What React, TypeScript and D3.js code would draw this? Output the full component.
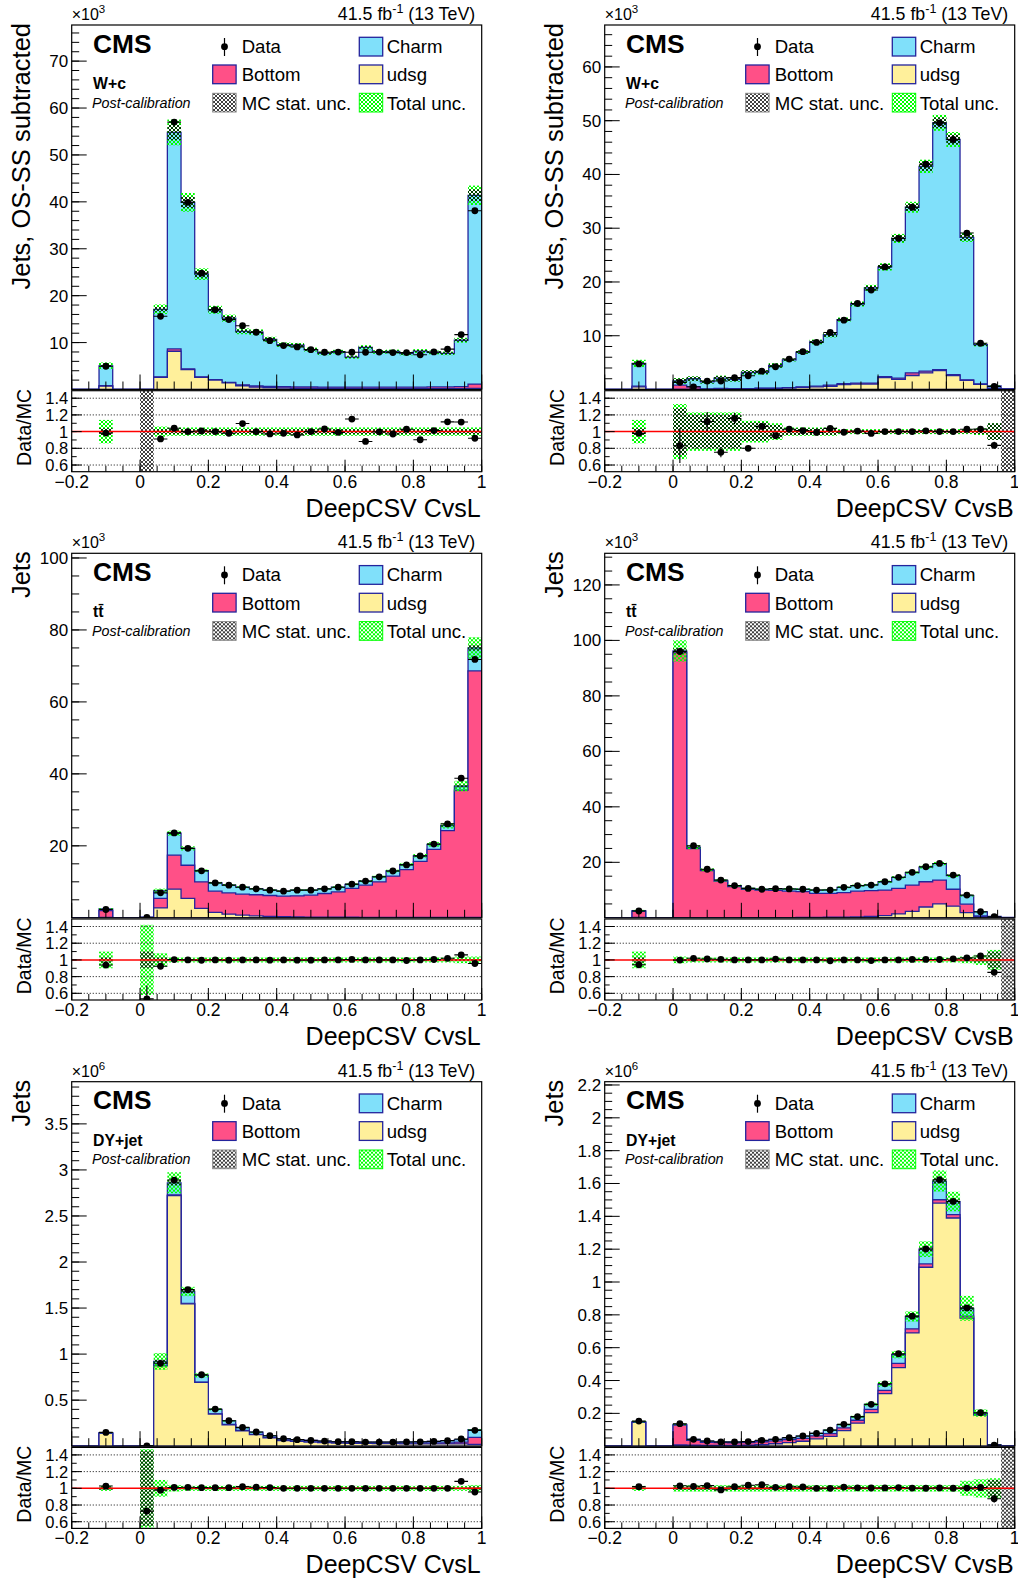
import React from "react";
import * as d3 from "d3";

const FONT = "'Liberation Sans', Arial, Helvetica, sans-serif";

// bin centres: the lone bin at -0.1, then 25 bins of width 0.04 covering [0, 1]
const binCenters = [-0.1, 0.02, 0.06, 0.1, 0.14, 0.18, 0.22, 0.26, 0.3, 0.34, 0.38, 0.42, 0.46, 0.5, 0.54, 0.58, 0.62, 0.66, 0.7, 0.74, 0.78, 0.82, 0.86, 0.9, 0.94, 0.98];
const BIN_W = 0.04;

// ---- W+c, CvsL (x10^3) ----
const wcL_mc = [5.05, 0, 17.1, 54.8, 39.9, 24.6, 17.0, 15.2, 12.4, 12.2, 10.7, 9.55, 9.45, 8.5, 7.7, 8.05, 6.9, 9.0, 8.0, 8.1, 7.65, 8.2, 7.9, 7.7, 10.5, 41.4];
const wcL_data = [4.96, null, 15.6, 57.0, 39.9, 24.8, 17.0, 14.9, 13.6, 12.2, 10.4, 9.36, 9.08, 8.5, 7.94, 7.98, 7.94, 7.94, 7.98, 7.87, 7.87, 7.4, 8.0, 8.6, 11.7, 38.1];
const wcL_udsg = [0.7, 0, 2.6, 8.15, 4.25, 2.6, 2.0, 1.4, 0.8, 0.5, 0.4, 0.35, 0.3, 0.3, 0.25, 0.25, 0.2, 0.2, 0.2, 0.2, 0.2, 0.2, 0.2, 0.2, 0.2, 0.25];
const wcL_bottom = [0.1, 0, 0.1, 0.5, 0.15, 0.1, 0.1, 0.1, 0.2, 0.25, 0.25, 0.25, 0.25, 0.25, 0.25, 0.25, 0.3, 0.3, 0.3, 0.3, 0.3, 0.3, 0.35, 0.35, 0.4, 0.9];
const wcL_tot = [0.14, 0, 0.06, 0.05, 0.05, 0.05, 0.05, 0.05, 0.05, 0.05, 0.05, 0.05, 0.05, 0.05, 0.05, 0.05, 0.05, 0.05, 0.05, 0.05, 0.05, 0.05, 0.05, 0.05, 0.05, 0.05];
const wcL_stat = [0.04, 1, 0.03, 0.03, 0.03, 0.03, 0.03, 0.03, 0.03, 0.03, 0.03, 0.03, 0.03, 0.03, 0.03, 0.03, 0.03, 0.03, 0.03, 0.03, 0.03, 0.03, 0.03, 0.03, 0.03, 0.03];
const wcL_err = [0.02, 0, 0.01, 0.01, 0.01, 0.01, 0.01, 0.01, 0.01, 0.01, 0.01, 0.01, 0.01, 0.01, 0.01, 0.01, 0.01, 0.01, 0.01, 0.01, 0.01, 0.01, 0.01, 0.01, 0.01, 0.01];

// ---- W+c, CvsB (x10^3) ----
const wcB_mc = [4.85, 1.6, 2.0, 1.4, 2.1, 1.9, 3.2, 3.2, 4.45, 5.5, 6.95, 8.85, 10.2, 13.0, 15.9, 18.9, 22.8, 28.1, 33.9, 41.5, 49.6, 46.5, 28.3, 8.35, 0.67, 0.1];
const wcB_data = [4.75, 1.33, 0.5, 1.57, 1.58, 2.2, 2.56, 3.4, 4.23, 5.66, 7.03, 8.76, 10.6, 12.9, 16.0, 18.5, 22.8, 28.1, 33.9, 41.9, 49.6, 46.5, 29.1, 8.6, 0.56, null];
const wcB_udsg = [0.5, 0, 0, 0, 0.1, 0.1, 0.1, 0.2, 0.2, 0.3, 0.4, 0.5, 0.6, 0.9, 1.0, 1.0, 2.2, 1.9, 2.6, 3.1, 3.5, 2.6, 1.7, 0.97, 0.2, 0.05];
const wcB_bottom = [0.1, 0.8, 0.5, 0.1, 0.1, 0.05, 0.05, 0.05, 0.05, 0.05, 0.1, 0.1, 0.2, 0.2, 0.2, 0.2, 0.2, 0.2, 0.5, 0.3, 0.2, 0.15, 0.1, 0.05, 0.02, 0.01];
const wcB_tot = [0.14, 0.33, 0.23, 0.23, 0.23, 0.23, 0.13, 0.13, 0.1, 0.05, 0.05, 0.05, 0.05, 0.03, 0.03, 0.03, 0.03, 0.03, 0.03, 0.03, 0.03, 0.03, 0.03, 0.04, 0.1, 0];
const wcB_stat = [0.04, 0.28, 0.2, 0.2, 0.2, 0.2, 0.11, 0.11, 0.08, 0.04, 0.04, 0.04, 0.04, 0.02, 0.02, 0.02, 0.02, 0.02, 0.02, 0.02, 0.02, 0.02, 0.02, 0.03, 0.1, 1];
const wcB_err = [0.02, 0.25, 0.3, 0.1, 0.08, 0.06, 0.03, 0.03, 0.02, 0.02, 0.015, 0.01, 0.01, 0.01, 0.01, 0.01, 0.01, 0.01, 0.01, 0.01, 0.01, 0.01, 0.01, 0.01, 0.05, 0];

// ---- ttbar, CvsL (x10^3) ----
const ttL_mc = [2.45, 0.15, 7.5, 23.5, 19.3, 13.1, 9.7, 9.1, 8.5, 8.05, 7.7, 7.4, 7.7, 7.7, 8.05, 8.5, 9.3, 10.2, 11.4, 13.0, 14.8, 17.2, 20.4, 25.6, 36.6, 75.0];
const ttL_data = [2.3, 0.08, 6.93, 23.6, 19.3, 13.05, 9.7, 9.07, 8.5, 8.05, 7.68, 7.4, 7.68, 7.68, 8.05, 8.5, 9.35, 10.2, 11.4, 13.0, 14.7, 17.2, 20.5, 26.1, 38.8, 71.8];
const ttL_udsg = [0.1, 0.02, 2.75, 7.95, 5.4, 2.6, 1.5, 1.0, 0.75, 0.55, 0.4, 0.3, 0.25, 0.2, 0.2, 0.15, 0.15, 0.1, 0.1, 0.1, 0.1, 0.1, 0.1, 0.1, 0.1, 0.1];
const ttL_bottom = [1.9, 0.08, 2.65, 9.45, 9.2, 7.4, 5.9, 5.9, 5.81, 5.85, 5.8, 5.7, 5.85, 6.1, 6.56, 7.05, 8.0, 8.97, 9.9, 11.5, 13.3, 15.6, 18.9, 24.1, 35.4, 68.5];
const ttL_tot = [0.1, 0.42, 0.08, 0.03, 0.03, 0.03, 0.03, 0.03, 0.03, 0.03, 0.03, 0.03, 0.03, 0.03, 0.03, 0.03, 0.03, 0.03, 0.03, 0.03, 0.03, 0.03, 0.03, 0.03, 0.04, 0.04];
const ttL_stat = [0.03, 0.1, 0.03, 0.01, 0.01, 0.01, 0.01, 0.01, 0.01, 0.01, 0.01, 0.01, 0.01, 0.01, 0.01, 0.01, 0.01, 0.01, 0.01, 0.01, 0.01, 0.01, 0.01, 0.01, 0.01, 0.01];
const ttL_err = [0.02, 0.3, 0.01, 0.01, 0.01, 0.01, 0.01, 0.01, 0.01, 0.01, 0.01, 0.01, 0.01, 0.01, 0.01, 0.01, 0.01, 0.01, 0.01, 0.01, 0.01, 0.01, 0.01, 0.01, 0.01, 0.01];

// ---- ttbar, CvsB (x10^3) ----
const ttB_mc = [2.6, 96.2, 25.5, 17.3, 13.5, 11.6, 10.6, 10.3, 10.4, 10.4, 10.3, 10.0, 10.1, 11.0, 11.6, 11.9, 13.0, 14.6, 16.3, 18.3, 19.5, 15.2, 8.0, 2.1, 0.47, 0.1];
const ttB_data = [2.45, 96.0, 26.0, 17.5, 13.6, 11.6, 10.6, 10.3, 10.5, 10.4, 10.3, 10.0, 10.0, 11.0, 11.6, 11.8, 13.0, 14.6, 16.4, 18.4, 19.6, 15.4, 8.2, 2.2, 0.4, null];
const ttB_udsg = [0.1, 0.05, 0.02, 0.02, 0.02, 0.03, 0.04, 0.05, 0.06, 0.08, 0.1, 0.15, 0.2, 0.25, 0.35, 0.5, 0.8, 1.4, 2.3, 3.9, 5.0, 4.2, 1.9, 0.4, 0.1, 0.03];
const ttB_bottom = [2.2, 95.7, 24.9, 17.0, 13.2, 11.2, 10.2, 9.9, 9.8, 9.5, 9.3, 8.65, 8.6, 8.85, 9.25, 9.3, 9.2, 9.2, 9.5, 9.1, 8.6, 6.1, 3.0, 0.25, 0.2, 0.02];
const ttB_tot = [0.1, 0.04, 0.03, 0.03, 0.03, 0.03, 0.03, 0.03, 0.03, 0.03, 0.03, 0.03, 0.03, 0.03, 0.03, 0.03, 0.03, 0.03, 0.03, 0.03, 0.03, 0.03, 0.04, 0.06, 0.12, 0.1];
const ttB_stat = [0.03, 0.01, 0.01, 0.01, 0.01, 0.01, 0.01, 0.01, 0.01, 0.01, 0.01, 0.01, 0.01, 0.01, 0.01, 0.01, 0.01, 0.01, 0.01, 0.01, 0.01, 0.01, 0.02, 0.03, 0.1, 1];
const ttB_err = [0.02, 0.01, 0.01, 0.01, 0.01, 0.01, 0.01, 0.01, 0.01, 0.01, 0.01, 0.01, 0.01, 0.01, 0.01, 0.01, 0.01, 0.01, 0.01, 0.01, 0.01, 0.01, 0.01, 0.01, 0.04, 0];

// ---- DY+jet, CvsL (x10^6) ----
const dyL_mc = [0.146, 0.0055, 0.92, 2.86, 1.68, 0.77, 0.40, 0.275, 0.20, 0.152, 0.113, 0.081, 0.071, 0.063, 0.056, 0.049, 0.049, 0.045, 0.045, 0.045, 0.046, 0.048, 0.052, 0.060, 0.072, 0.18];
const dyL_data = [0.15, 0.004, 0.90, 2.89, 1.70, 0.776, 0.403, 0.277, 0.204, 0.154, 0.114, 0.081, 0.071, 0.063, 0.056, 0.049, 0.049, 0.045, 0.045, 0.045, 0.046, 0.048, 0.052, 0.060, 0.078, 0.172];
const dyL_udsg = [0.14, 0.005, 0.873, 2.72, 1.546, 0.692, 0.349, 0.233, 0.168, 0.125, 0.09, 0.062, 0.052, 0.045, 0.04, 0.034, 0.032, 0.03, 0.028, 0.027, 0.026, 0.026, 0.026, 0.025, 0.025, 0.02];
const dyL_bottom = [0.002, 0, 0.004, 0.01, 0.005, 0.004, 0.003, 0.003, 0.003, 0.003, 0.003, 0.003, 0.003, 0.003, 0.003, 0.003, 0.004, 0.004, 0.005, 0.005, 0.006, 0.007, 0.009, 0.012, 0.02, 0.076];
const dyL_tot = [0.03, 0.47, 0.1, 0.04, 0.03, 0.03, 0.03, 0.03, 0.03, 0.03, 0.03, 0.03, 0.03, 0.03, 0.03, 0.03, 0.03, 0.03, 0.03, 0.03, 0.03, 0.03, 0.03, 0.03, 0.03, 0.04];
const dyL_stat = [0.02, 0.45, 0.02, 0.01, 0.01, 0.01, 0.01, 0.01, 0.01, 0.01, 0.01, 0.01, 0.01, 0.01, 0.01, 0.01, 0.01, 0.01, 0.01, 0.01, 0.01, 0.01, 0.01, 0.01, 0.01, 0.02];
const dyL_err = [0.01, 0.05, 0.005, 0.005, 0.005, 0.005, 0.005, 0.005, 0.005, 0.005, 0.005, 0.005, 0.005, 0.005, 0.005, 0.005, 0.005, 0.005, 0.005, 0.005, 0.005, 0.005, 0.005, 0.005, 0.01, 0.01];

// ---- DY+jet, CvsB (x10^6) ----
const dyB_mc = [0.150, 0.133, 0.041, 0.031, 0.0265, 0.0255, 0.027, 0.0345, 0.0415, 0.051, 0.061, 0.078, 0.098, 0.131, 0.179, 0.254, 0.378, 0.558, 0.79, 1.20, 1.615, 1.49, 0.84, 0.202, 0.008, 0.002];
const dyB_data = [0.153, 0.137, 0.042, 0.032, 0.026, 0.026, 0.028, 0.036, 0.042, 0.052, 0.062, 0.078, 0.098, 0.133, 0.180, 0.255, 0.380, 0.563, 0.792, 1.201, 1.623, 1.491, 0.842, 0.204, 0.007, null];
const dyB_udsg = [0.145, 0.008, 0.006, 0.005, 0.005, 0.005, 0.006, 0.01, 0.015, 0.022, 0.03, 0.045, 0.06, 0.095, 0.14, 0.204, 0.32, 0.478, 0.69, 1.09, 1.481, 1.39, 0.78, 0.19, 0.005, 0.001];
const dyB_bottom = [0.002, 0.12, 0.03, 0.019, 0.017, 0.016, 0.016, 0.017, 0.017, 0.018, 0.018, 0.018, 0.017, 0.017, 0.018, 0.02, 0.02, 0.026, 0.025, 0.02, 0.02, 0.02, 0.012, 0.004, 0.001, 0];
const dyB_tot = [0.03, 0.04, 0.04, 0.04, 0.04, 0.04, 0.04, 0.04, 0.04, 0.04, 0.04, 0.04, 0.04, 0.04, 0.04, 0.04, 0.04, 0.04, 0.04, 0.04, 0.04, 0.04, 0.09, 0.11, 0.12, 0];
const dyB_stat = [0.01, 0.02, 0.02, 0.02, 0.02, 0.02, 0.02, 0.02, 0.02, 0.02, 0.02, 0.02, 0.01, 0.01, 0.01, 0.01, 0.01, 0.01, 0.01, 0.01, 0.01, 0.01, 0.02, 0.03, 0.1, 1];
const dyB_err = [0.01, 0.01, 0.01, 0.01, 0.01, 0.01, 0.01, 0.01, 0.01, 0.01, 0.01, 0.01, 0.005, 0.005, 0.005, 0.005, 0.005, 0.005, 0.005, 0.005, 0.005, 0.005, 0.005, 0.005, 0.05, 0];

// colours
const C_CHARM = "#80e0fa";
const C_BOTTOM = "#ff5087";
const C_UDSG = "#fff09b";
const C_LINE = "#24249c";

// layout (pixels)
const colX = [0, 533];
const rowY = [0, 528.3, 1056.7];
const FL = 71.7, FR = 481.7, MT = 25, MB = 389.5, RT = 390.7, RB = 471.7;

interface PanelCfg {
  row: number;
  col: number;
  label: string;
  xTitle: string;
  yTitle: string;
  exponent: string;
  yMax: number;
  yMajor: number;
  yMinor: number;
  mc: number[];
  data: (number | null)[];
  udsg: number[];
  bottom: number[];
  tot: number[];
  stat: number[];
  err: number[];
}

const panels: PanelCfg[] = [
  { row: 0, col: 0, label: "W+c", xTitle: "DeepCSV CvsL", yTitle: "Jets, OS-SS subtracted", exponent: "3", yMax: 77.7, yMajor: 10, yMinor: 2,
    mc: wcL_mc, data: wcL_data, udsg: wcL_udsg, bottom: wcL_bottom, tot: wcL_tot, stat: wcL_stat, err: wcL_err },
  { row: 0, col: 1, label: "W+c", xTitle: "DeepCSV CvsB", yTitle: "Jets, OS-SS subtracted", exponent: "3", yMax: 67.8, yMajor: 10, yMinor: 2,
    mc: wcB_mc, data: wcB_data, udsg: wcB_udsg, bottom: wcB_bottom, tot: wcB_tot, stat: wcB_stat, err: wcB_err },
  { row: 1, col: 0, label: "tt\u0304", xTitle: "DeepCSV CvsL", yTitle: "Jets", exponent: "3", yMax: 101.3, yMajor: 20, yMinor: 5,
    mc: ttL_mc, data: ttL_data, udsg: ttL_udsg, bottom: ttL_bottom, tot: ttL_tot, stat: ttL_stat, err: ttL_err },
  { row: 1, col: 1, label: "tt\u0304", xTitle: "DeepCSV CvsB", yTitle: "Jets", exponent: "3", yMax: 131.4, yMajor: 20, yMinor: 5,
    mc: ttB_mc, data: ttB_data, udsg: ttB_udsg, bottom: ttB_bottom, tot: ttB_tot, stat: ttB_stat, err: ttB_err },
  { row: 2, col: 0, label: "DY+jet", xTitle: "DeepCSV CvsL", yTitle: "Jets", exponent: "6", yMax: 3.958, yMajor: 0.5, yMinor: 0.1,
    mc: dyL_mc, data: dyL_data, udsg: dyL_udsg, bottom: dyL_bottom, tot: dyL_tot, stat: dyL_stat, err: dyL_err },
  { row: 2, col: 1, label: "DY+jet", xTitle: "DeepCSV CvsB", yTitle: "Jets", exponent: "6", yMax: 2.22, yMajor: 0.2, yMinor: 0.05,
    mc: dyB_mc, data: dyB_data, udsg: dyB_udsg, bottom: dyB_bottom, tot: dyB_tot, stat: dyB_stat, err: dyB_err },
];

const fmt = d3.format("~g");
const ratioMajor = [0.6, 0.8, 1, 1.2, 1.4];
const ratioMinor = [0.6, 0.7, 0.8, 0.9, 1, 1.1, 1.2, 1.3, 1.4];
const xMajor = [-0.2, 0, 0.2, 0.4, 0.6, 0.8, 1];

function Legend() {
  const col1Box = 212.7, col2Box = 359.3, col1Txt = 241.7, col2Txt = 386.7;
  const bw = 23.4, bh = 18.7;
  const rows = [37.3, 65, 93.3];
  const base = [53, 81.3, 109.6];
  const ts = { fontFamily: FONT, fontSize: 18.6 } as const;
  return (
    <g>
      <line x1={224.5} x2={224.5} y1={38} y2={56} stroke="#000" strokeWidth={1.2} />
      <circle cx={224.5} cy={46.7} r={3.4} fill="#000" />
      <text x={col1Txt} y={base[0]} {...ts}>Data</text>
      <rect x={col2Box} y={rows[0]} width={bw} height={bh} fill={C_CHARM} stroke={C_LINE} strokeWidth={1.3} />
      <text x={col2Txt} y={base[0]} {...ts}>Charm</text>
      <rect x={col1Box} y={rows[1]} width={bw} height={bh} fill={C_BOTTOM} stroke={C_LINE} strokeWidth={1.3} />
      <text x={col1Txt} y={base[1]} {...ts}>Bottom</text>
      <rect x={col2Box} y={rows[1]} width={bw} height={bh} fill={C_UDSG} stroke={C_LINE} strokeWidth={1.3} />
      <text x={col2Txt} y={base[1]} {...ts}>udsg</text>
      <rect x={col1Box} y={rows[2]} width={bw} height={bh} fill="url(#hatchK)" stroke="#888" strokeWidth={1} />
      <text x={col1Txt} y={base[2]} {...ts}>MC stat. unc.</text>
      <rect x={col2Box} y={rows[2]} width={bw} height={bh} fill="url(#hatchG)" stroke="#00ff00" strokeWidth={1} />
      <text x={col2Txt} y={base[2]} {...ts}>Total unc.</text>
    </g>
  );
}

function Panel({ p, id }: { p: PanelCfg; id: number }) {
  const ox = colX[p.col];
  const oy = rowY[p.row];
  const x = d3.scaleLinear().domain([-0.2, 1]).range([FL, FR]);
  const y = d3.scaleLinear().domain([0, p.yMax]).range([MB, MT]);
  const yr = d3.scaleLinear().domain([0.52, 1.49]).range([RB, RT]);

  const edges = d3.range(31).map((i) => -0.2 + i * BIN_W);
  const full = (arr: (number | null)[]) => {
    const f: number[] = new Array(30).fill(0);
    binCenters.forEach((c, i) => {
      f[Math.round((c + 0.2 - BIN_W / 2) / BIN_W)] = arr[i] ?? 0;
    });
    return f;
  };
  const uF = full(p.udsg);
  const bF = full(p.bottom);
  const ubF = uF.map((v, i) => v + bF[i]);
  const totF = full(p.mc).map((v, i) => Math.max(v, ubF[i]));

  const steps = (vals: number[]) =>
    vals.flatMap((v, i) => [[edges[i], v], [edges[i + 1], v]] as [number, number][]);
  const area = d3
    .area<[number, number]>()
    .x((d) => x(d[0]))
    .y0(y(0))
    .y1((d) => y(d[1]));

  const layers = [
    { vals: totF, fill: C_CHARM },
    { vals: ubF, fill: C_BOTTOM },
    { vals: uF, fill: C_UDSG },
  ];

  const nMaj = Math.floor(p.yMax / p.yMajor + 1e-6);
  const yMajorTicks = d3.range(1, nMaj + 1).map((k) => +(k * p.yMajor).toFixed(4));
  const nMin = Math.floor(p.yMax / p.yMinor + 1e-6);
  const yMinorTicks = d3.range(1, nMin + 1).map((k) => +(k * p.yMinor).toFixed(4));
  const xMinorTicks = d3.range(0, 25).map((k) => +(-0.2 + k * 0.05).toFixed(3));

  const half = BIN_W / 2;
  const clipM = `clipM${id}`;
  const clipR = `clipR${id}`;
  const ratioFullLo = yr.domain()[0];
  const ratioFullHi = yr.domain()[1];

  return (
    <g transform={`translate(${ox},${oy})`}>
      <defs>
        <clipPath id={clipM}>
          <rect x={FL} y={MT} width={FR - FL} height={MB - MT} />
        </clipPath>
        <clipPath id={clipR}>
          <rect x={FL} y={RT} width={FR - FL} height={RB - RT} />
        </clipPath>
      </defs>

      {/* main pad */}
      <g clipPath={`url(#${clipM})`}>
        {layers.map((l, i) => (
          <path key={i} d={area(steps(l.vals)) ?? ""} fill={l.fill} stroke={C_LINE} strokeWidth={1.3} />
        ))}
        {binCenters.map((c, i) =>
          p.mc[i] > 0 && p.stat[i] < 1 && p.tot[i] > 0 ? (
            <rect key={"tg" + i} x={x(c - half)} width={x(c + half) - x(c - half)}
              y={y(p.mc[i] * (1 + p.tot[i]))} height={y(p.mc[i] * (1 - p.tot[i])) - y(p.mc[i] * (1 + p.tot[i]))}
              fill="url(#hatchG)" />
          ) : null
        )}
        {binCenters.map((c, i) =>
          p.mc[i] > 0 && p.stat[i] < 1 ? (
            <rect key={"sk" + i} x={x(c - half)} width={x(c + half) - x(c - half)}
              y={y(p.mc[i] * (1 + p.stat[i]))} height={y(p.mc[i] * (1 - p.stat[i])) - y(p.mc[i] * (1 + p.stat[i]))}
              fill="url(#hatchK)" />
          ) : null
        )}
        {binCenters.map((c, i) => {
          const d = p.data[i];
          if (d == null) return null;
          const e = d * p.err[i];
          return (
            <g key={"d" + i}>
              <line x1={x(c - half)} x2={x(c + half)} y1={y(d)} y2={y(d)} stroke="#000" strokeWidth={1.1} />
              <line x1={x(c)} x2={x(c)} y1={y(d - e)} y2={y(d + e)} stroke="#000" strokeWidth={1.1} />
              <circle cx={x(c)} cy={y(d)} r={3.4} fill="#000" />
            </g>
          );
        })}
      </g>
      <rect x={FL} y={MT} width={FR - FL} height={MB - MT} fill="none" stroke="#000" strokeWidth={1.2} />
      {yMinorTicks.map((t) => (
        <line key={"ymn" + t} x1={FL} x2={FL + 7.5} y1={y(t)} y2={y(t)} stroke="#000" strokeWidth={1} />
      ))}
      {yMajorTicks.map((t) => (
        <g key={"ymj" + t}>
          <line x1={FL} x2={FL + 15} y1={y(t)} y2={y(t)} stroke="#000" strokeWidth={1} />
          <text x={FL - 3.5} y={y(t) + 6} textAnchor="end" fontFamily={FONT} fontSize={17}>{fmt(t)}</text>
        </g>
      ))}
      {xMinorTicks.map((t) => (
        <line key={"xmn" + t} x1={x(t)} x2={x(t)} y1={MB} y2={MB - 8} stroke="#000" strokeWidth={1} />
      ))}
      {xMajor.map((t) => (
        <line key={"xmj" + t} x1={x(t)} x2={x(t)} y1={MB} y2={MB - 15} stroke="#000" strokeWidth={1} />
      ))}

      {/* texts */}
      <text x={FL} y={20} fontFamily={FONT} fontSize={16}>
        ×10<tspan dy={-7} fontSize={11.5}>{p.exponent}</tspan>
      </text>
      <text x={FR - 6.5} y={20} textAnchor="end" fontFamily={FONT} fontSize={17.8}>
        41.5 fb<tspan dy={-7} fontSize={12.5}>-1</tspan>
        <tspan dy={7}> (13 TeV)</tspan>
      </text>
      <text x={93} y={52.5} fontFamily={FONT} fontSize={26.3} fontWeight="bold">CMS</text>
      <text x={93} y={89} fontFamily={FONT} fontSize={15.8} fontWeight="bold">{p.label}</text>
      <text x={92} y={107.5} fontFamily={FONT} fontSize={14.3} fontStyle="italic">Post-calibration</text>
      <Legend />
      <text transform={`translate(30,23) rotate(-90)`} textAnchor="end" fontFamily={FONT} fontSize={25.5}>{p.yTitle}</text>

      {/* ratio pad */}
      <g clipPath={`url(#${clipR})`}>
        {binCenters.map((c, i) => {
          if (p.stat[i] >= 1 || p.tot[i] <= 0) return null;
          return (
            <rect key={"rg" + i} x={x(c - half)} width={x(c + half) - x(c - half)}
              y={yr(1 + p.tot[i])} height={yr(1 - p.tot[i]) - yr(1 + p.tot[i])} fill="url(#hatchG)" />
          );
        })}
        {binCenters.map((c, i) => {
          const isFull = p.stat[i] >= 1;
          const hi = isFull ? ratioFullHi : 1 + p.stat[i];
          const lo = isFull ? ratioFullLo : 1 - p.stat[i];
          return (
            <rect key={"rk" + i} x={x(c - half)} width={x(c + half) - x(c - half)}
              y={yr(hi)} height={yr(lo) - yr(hi)} fill="url(#hatchK)" />
          );
        })}
        {[0.6, 0.8, 1.2, 1.4].map((g) => (
          <line key={"g" + g} x1={FL} x2={FR} y1={yr(g)} y2={yr(g)} stroke="#333" strokeWidth={1} strokeDasharray="1.2,1.8" />
        ))}
        <line x1={FL} x2={FR} y1={yr(1)} y2={yr(1)} stroke="#ff0000" strokeWidth={1.5} />
        {binCenters.map((c, i) => {
          const d = p.data[i];
          if (d == null || !(p.mc[i] > 0)) return null;
          const r = d / p.mc[i];
          if (r < ratioFullLo || r > ratioFullHi) return null;
          const e = r * p.err[i];
          return (
            <g key={"r" + i}>
              <line x1={x(c - half)} x2={x(c + half)} y1={yr(r)} y2={yr(r)} stroke="#000" strokeWidth={1.1} />
              <line x1={x(c)} x2={x(c)} y1={yr(r - e)} y2={yr(r + e)} stroke="#000" strokeWidth={1.1} />
              <circle cx={x(c)} cy={yr(r)} r={3.4} fill="#000" />
            </g>
          );
        })}
      </g>
      <rect x={FL} y={RT} width={FR - FL} height={RB - RT} fill="none" stroke="#000" strokeWidth={1.2} />
      {ratioMinor.map((t) => (
        <line key={"rmn" + t} x1={FL} x2={FL + 5} y1={yr(t)} y2={yr(t)} stroke="#000" strokeWidth={1} />
      ))}
      {ratioMajor.map((t) => (
        <g key={"rmj" + t}>
          <line x1={FL} x2={FL + 10} y1={yr(t)} y2={yr(t)} stroke="#000" strokeWidth={1} />
          <text x={FL - 3.5} y={yr(t) + 6} textAnchor="end" fontFamily={FONT} fontSize={16.5}>{fmt(t)}</text>
        </g>
      ))}
      {xMinorTicks.map((t) => (
        <line key={"rxmn" + t} x1={x(t)} x2={x(t)} y1={RB} y2={RB - 6} stroke="#000" strokeWidth={1} />
      ))}
      {xMajor.map((t) => (
        <g key={"rxmj" + t}>
          <line x1={x(t)} x2={x(t)} y1={RB} y2={RB - 12} stroke="#000" strokeWidth={1} />
          <text x={x(t)} y={487.5} textAnchor="middle" fontFamily={FONT} fontSize={17.5}>{fmt(t)}</text>
        </g>
      ))}
      <text transform={`translate(31,389) rotate(-90)`} textAnchor="end" fontFamily={FONT} fontSize={19.5}>Data/MC</text>
      <text x={FR - 1} y={516.7} textAnchor="end" fontFamily={FONT} fontSize={25}>{p.xTitle}</text>
    </g>
  );
}

export default function App() {
  return (
    <svg width={1018} height={1585} style={{ position: "absolute", left: 0, top: 0, background: "#fff" }}>
      <defs>
        <pattern id="hatchK" width={4} height={4} patternUnits="userSpaceOnUse">
          <path d="M0,0L4,4M4,0L0,4" stroke="#000" strokeWidth={0.75} />
        </pattern>
        <pattern id="hatchG" width={4} height={4} patternUnits="userSpaceOnUse">
          <path d="M0,0L4,4M4,0L0,4" stroke="#00ff00" strokeWidth={1} />
        </pattern>
      </defs>
      <rect width={1018} height={1585} fill="#fff" />
      {panels.map((p, i) => (
        <Panel key={i} p={p} id={i} />
      ))}
    </svg>
  );
}
